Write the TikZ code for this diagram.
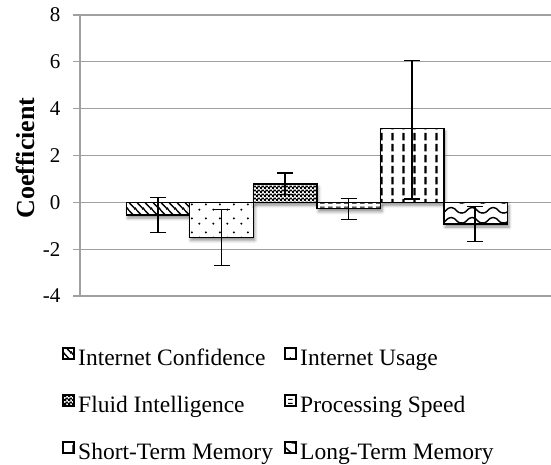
\documentclass[tikz,border=0pt]{standalone}
\usepackage{fontspec}
\setmainfont{Liberation Serif}
\usetikzlibrary{patterns.meta,shadows.blur}

% fill patterns for the six predictors
\tikzdeclarepattern{name=confpat, type=colored,
  bottom left={(0pt,0pt)}, top right={(8pt,8pt)}, tile size={(8pt,8pt)},
  code={\draw[black,line width=1.5pt] (-1pt,9pt) -- (9pt,-1pt);
        \draw[black,line width=1.5pt] (-1pt,1pt) -- (1pt,-1pt);
        \draw[black,line width=1.5pt] (7pt,9pt) -- (9pt,7pt);}}
\tikzdeclarepattern{name=usagepat, type=colored,
  bottom left={(0pt,0pt)}, top right={(14pt,14pt)}, tile size={(14pt,14pt)},
  code={\fill[black] (3.5pt,3.5pt) circle (1.2pt);
        \fill[black] (10.5pt,9pt) circle (1.2pt);}}
\tikzdeclarepattern{name=fluidpat, type=colored,
  bottom left={(0pt,0pt)}, top right={(4pt,4pt)}, tile size={(4pt,4pt)},
  code={\fill[black] (0pt,0pt) rectangle (2.4pt,2.4pt);
        \fill[black] (2pt,2pt) rectangle (4pt,4pt);
        \fill[black] (2pt,0pt) rectangle (2.4pt,4pt);}}
\tikzdeclarepattern{name=speedpat, type=colored,
  bottom left={(0pt,0pt)}, top right={(8pt,4pt)}, tile size={(8pt,4pt)},
  code={\fill[black] (0pt,1.4pt) rectangle (5pt,2.6pt);}}
\tikzdeclarepattern{name=stmpat, type=colored,
  bottom left={(0pt,0pt)}, top right={(11.4pt,11.2pt)}, tile size={(11.4pt,11.2pt)},
  code={\fill[black] (4.5pt,1.6pt) rectangle (6.9pt,9.6pt);}}
\tikzdeclarepattern{name=ltmpat, type=colored,
  bottom left={(0pt,0pt)}, top right={(21pt,10pt)}, tile size={(21pt,10pt)},
  code={\draw[black,line width=1.5pt] (0pt,2pt) .. controls (5pt,2pt) and (5.5pt,8pt) .. (10.5pt,8pt)
        .. controls (15.5pt,8pt) and (16pt,2pt) .. (21pt,2pt);}}

\tikzset{
  gridline/.style={draw={rgb,255:red,160;green,160;blue,160}, line width=1.2pt},
  bar/.style={blur shadow={shadow xshift=1.5pt, shadow yshift=-3pt,
      shadow blur radius=3pt, shadow opacity=45},
    preaction={fill=white}, draw=black, line width=1.6pt, pattern={#1}},
  errbar/.style={draw=black, line width=1.3pt},
  ticklabel/.style={anchor=east, inner sep=0pt, font=\fontsize{21}{24}\selectfont},
  legkey/.style={preaction={fill=white}, draw=black, line width=1.4pt, pattern={#1}},
  legtext/.style={anchor=base west, inner sep=0pt, font=\fontsize{23.5}{27}\selectfont},
}

\begin{document}
\begin{tikzpicture}[x=1pt, y=-1pt]
\useasboundingbox (0,0) rectangle (551,465);

% value axis: zero line 202.3pt from the top, 23.4pt per unit
\begin{scope}[shift={(0,202.3)}, y=23.4pt]
  \foreach \v in {-4,-2,0,2,4,6,8} {
    \draw[gridline] (73,\v) -- (551,\v);
    \node[ticklabel] (tick\v) at (60.5,\v) {\v};
  }
  \draw[gridline] (80,-4) -- (80,8);

  % bars
  \draw[bar=confpat]  (126.3,0) rectangle (189.3,-0.55);
  \draw[bar=usagepat] (189.3,0) rectangle (253.3,-1.5);
  \draw[bar=fluidpat] (253.3,0) rectangle (317,0.78);
  \draw[bar=speedpat] (317,0) rectangle (380.5,-0.27);
  \draw[bar=stmpat]   (380.5,0) rectangle (443.7,3.15);
  \draw[bar=ltmpat]   (443.7,0) rectangle (507.5,-0.93);

  % error bars
  \foreach \n/\x/\hi/\lo in {1/158/0.2/-1.3, 2/221.5/-0.3/-2.7, 3/285/1.25/0.33,
                             4/348.5/0.17/-0.74, 5/412/6.07/0.14, 6/475/-0.17/-1.68} {
    \coordinate (hi\n) at (\x,\hi);
    \coordinate (lo\n) at (\x,\lo);
    \draw[errbar] (hi\n) -- (lo\n);
    \draw[errbar] ([xshift=-8pt]hi\n) -- ([xshift=8pt]hi\n);
    \draw[errbar] ([xshift=-8pt]lo\n) -- ([xshift=8pt]lo\n);
  }
\end{scope}

\node[rotate=90, inner sep=0pt, font=\fontsize{26}{28}\bfseries] (ytitle) at (25,158) {Coefficient};

% legend
\foreach \r/\col/\pat/\txt in {0/0/confpat/Internet Confidence, 0/1/usagepat/Internet Usage,
                               1/0/fluidpat/Fluid Intelligence, 1/1/speedpat/Processing Speed,
                               2/0/stmpat/Short-Term Memory, 2/1/ltmpat/Long-Term Memory} {
  \draw[legkey=\pat] ({63+222*\col},{348+47*\r}) rectangle ({74+222*\col},{359+47*\r});
  \node[legtext] (leg\r\col) at ({78+222*\col},{365+47*\r}) {\txt};
}
\end{tikzpicture}
\end{document}
